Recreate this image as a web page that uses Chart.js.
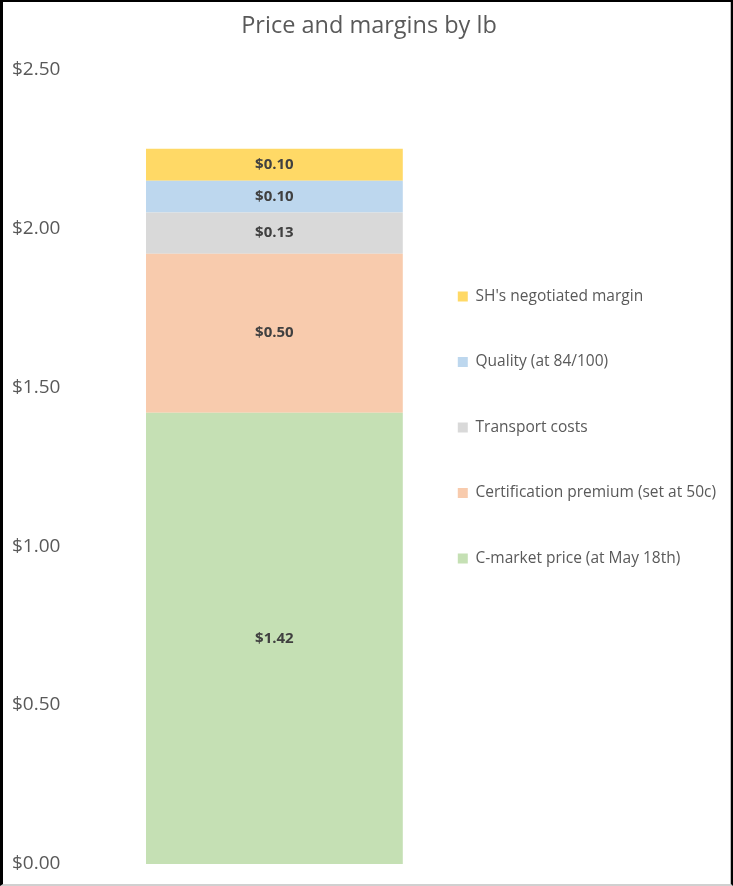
<!DOCTYPE html>
<html>
<head>
<meta charset="utf-8">
<title>Price and margins by lb</title>
<script src="https://cdn.jsdelivr.net/npm/chart.js@4"></script>
<style>
  html, body { margin: 0; padding: 0; background: #ffffff; }
  #wrap { position: relative; width: 733px; height: 886px; }
  #frame {
    position: absolute; left: 0; top: 0; width: 733px; height: 886px;
    box-sizing: border-box; pointer-events: none;
    border-top: 2px solid #000; border-left: 3px solid #000;
    border-right: 2px solid #000; border-bottom: 2px solid #d0d0d0;
    box-shadow: inset -1px 0 0 #bfbfbf;
  }
  canvas { display: block; }
</style>
</head>
<body>
<div id="wrap">
  <canvas id="c" width="733" height="886"></canvas>
  <div id="frame"></div>
</div>
<script>
// ---- data ----
const categories = ['Price'];
const seriesNames = [
  'C-market price (at May 18th)',
  'Certification premium (set at 50c)',
  'Transport costs',
  'Quality (at 84/100)',
  "SH's negotiated margin"
];
const cMarket = [1.42];
const certPremium = [0.50];
const transport = [0.13];
const quality = [0.10];
const shMargin = [0.10];
const tickValues = [0, 0.5, 1.0, 1.5, 2.0, 2.5];
const seriesColors = ['#C5E0B4', '#F8CBAD', '#D9D9D9', '#BDD7EE', '#FFD966'];

const seriesValues = [cMarket, certPremium, transport, quality, shMargin];
const FONT = "'Open Sans', 'DejaVu Sans', sans-serif";

const barLabels = {
  id: 'barLabels',
  afterDatasetsDraw(chart) {
    const ctx = chart.ctx;
    ctx.save();
    ctx.font = "bold 15px " + FONT;
    ctx.fillStyle = '#404040';
    ctx.textAlign = 'center';
    ctx.textBaseline = 'middle';
    chart.data.datasets.forEach((ds, i) => {
      const meta = chart.getDatasetMeta(i);
      meta.data.forEach((el, j) => {
        const v = ds.data[j];
        ctx.fillText('$' + v.toFixed(2), el.x, (el.y + el.base) / 2);
      });
    });
    ctx.restore();
  }
};

new Chart(document.getElementById('c'), {
  type: 'bar',
  data: {
    labels: categories,
    datasets: seriesNames.map((name, i) => ({
      label: name,
      data: seriesValues[i],
      backgroundColor: seriesColors[i],
      borderWidth: 0,
      categoryPercentage: 1,
      barPercentage: 0.9625
    }))
  },
  options: {
    responsive: false,
    animation: false,
    layout: { padding: { top: -9, bottom: 22, left: 12, right: 7 } },
    plugins: {
      title: {
        display: true,
        text: 'Price and margins by lb',
        color: '#595959',
        font: { family: FONT, size: 23.5, weight: 'normal' },
        padding: { top: 21, bottom: 29.2 }
      },
      legend: {
        position: 'right',
        align: 'center',
        reverse: true,
        maxWidth: 340,
        labels: {
          boxWidth: 10,
          boxHeight: 10,
          padding: 50,
          color: '#595959',
          font: { family: FONT, size: 15.5 }
        }
      },
      tooltip: { enabled: false }
    },
    scales: {
      x: { stacked: true, display: false },
      y: {
        stacked: true,
        min: 0,
        max: 2.5,
        afterBuildTicks(scale) { scale.ticks = tickValues.map(v => ({ value: v })); },
        afterFit(scale) { scale.width = 129; },
        grid: { display: false, drawTicks: false },
        border: { display: false },
        ticks: {
          crossAlign: 'far',
          color: '#595959',
          font: { family: FONT, size: 19 },
          callback: v => '$' + Number(v).toFixed(2)
        }
      }
    }
  },
  plugins: [barLabels]
});
</script>
</body>
</html>
